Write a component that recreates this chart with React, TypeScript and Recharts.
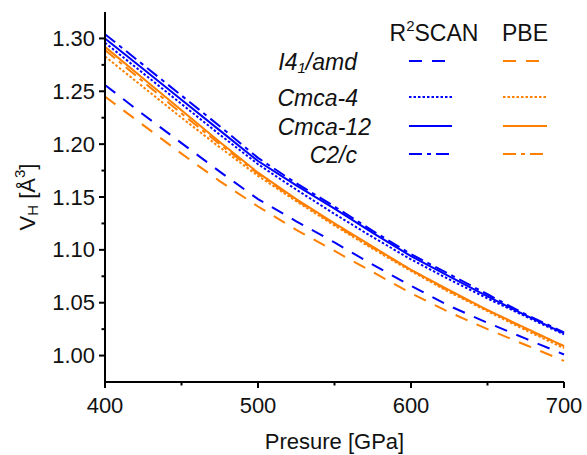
import { LineChart, Line, XAxis, YAxis } from "recharts";

const pressure = [400, 425, 450, 475, 500, 525, 550, 575, 600, 625, 650, 675, 700];

// R2SCAN
const i41R2 = [1.256, 1.228, 1.201, 1.174, 1.148, 1.127, 1.107, 1.086, 1.066, 1.047, 1.031, 1.016, 1.001];
const cmca4R2 = [1.296, 1.267, 1.238, 1.209, 1.181, 1.157, 1.134, 1.112, 1.091, 1.072, 1.054, 1.037, 1.02];
const cmca12R2 = [1.3, 1.271, 1.242, 1.213, 1.184, 1.161, 1.139, 1.116, 1.094, 1.075, 1.056, 1.038, 1.021];
const c2cR2 = [1.304, 1.275, 1.246, 1.217, 1.187, 1.163, 1.141, 1.118, 1.096, 1.077, 1.058, 1.039, 1.022];

// PBE
const i41Pbe = [1.245, 1.218, 1.191, 1.165, 1.141, 1.119, 1.099, 1.079, 1.059, 1.041, 1.025, 1.01, 0.995];
const cmca4Pbe = [1.283, 1.254, 1.225, 1.197, 1.17, 1.146, 1.123, 1.101, 1.08, 1.06, 1.042, 1.024, 1.007];
const cmca12Pbe = [1.292, 1.262, 1.232, 1.202, 1.173, 1.148, 1.125, 1.103, 1.081, 1.062, 1.043, 1.026, 1.009];
const c2cPbe = [1.289, 1.259, 1.229, 1.2, 1.172, 1.147, 1.124, 1.102, 1.081, 1.061, 1.043, 1.025, 1.009];

const xTicks = [400, 450, 500, 550, 600, 650, 700];
const xMajor = [400, 500, 600, 700];
const yTicks = [1.0, 1.025, 1.05, 1.075, 1.1, 1.125, 1.15, 1.175, 1.2, 1.225, 1.25, 1.275, 1.3];
const yMajor = [1.0, 1.05, 1.1, 1.15, 1.2, 1.25, 1.3];

const BLUE = "#0000ff";
const ORANGE = "#ff8000";
const FONT = "'Liberation Sans', Arial, sans-serif";

const DASH = "13 10";
const DOT = "2.5 2";
const DASHDOT = "13 5 4 5";

const styles = [
  { name: "I4", dash: DASH },
  { name: "Cmca-4", dash: DOT },
  { name: "Cmca-12", dash: undefined },
  { name: "C2/c", dash: DASHDOT },
];

const data = pressure.map((p, i) => ({
  p,
  i41R2: i41R2[i],
  cmca4R2: cmca4R2[i],
  cmca12R2: cmca12R2[i],
  c2cR2: c2cR2[i],
  i41Pbe: i41Pbe[i],
  cmca4Pbe: cmca4Pbe[i],
  cmca12Pbe: cmca12Pbe[i],
  c2cPbe: c2cPbe[i],
}));

const TICK_SIZE = 6;
const TICK_MARGIN = 4;

function YTick(props: any) {
  const { x, y, payload } = props;
  const major = yMajor.some((v) => Math.abs(v - payload.value) < 1e-6);
  const ax = x + TICK_SIZE + TICK_MARGIN;
  return (
    <g>
      <line x1={ax} x2={ax - (major ? 6 : 3.5)} y1={y} y2={y} stroke="#000" strokeWidth={2} />
      {major && (
        <text x={x} y={y} textAnchor="end" dominantBaseline="central" fontSize={22} fontFamily={FONT} fill="#111">
          {payload.value.toFixed(2)}
        </text>
      )}
    </g>
  );
}

function XTick(props: any) {
  const { x, y, payload } = props;
  const major = xMajor.includes(payload.value);
  const ay = y - TICK_SIZE - TICK_MARGIN;
  return (
    <g>
      <line x1={x} x2={x} y1={ay} y2={ay + (major ? 6 : 3.5)} stroke="#000" strokeWidth={2} />
      {major && (
        <text x={x} y={y + 13} textAnchor="middle" dominantBaseline="central" fontSize={22} fontFamily={FONT} fill="#111">
          {payload.value}
        </text>
      )}
    </g>
  );
}

function XLabel(props: any) {
  const { viewBox } = props;
  return (
    <text
      x={viewBox.x + viewBox.width / 2}
      y={441}
      textAnchor="middle"
      dominantBaseline="central"
      fontSize={22}
      fontFamily={FONT}
      fill="#111"
    >
      Presure [GPa]
    </text>
  );
}

function YLabel(props: any) {
  const { viewBox } = props;
  const cx = 27;
  const cy = viewBox.y + viewBox.height / 2;
  return (
    <text
      x={cx}
      y={cy}
      transform={`rotate(-90 ${cx} ${cy})`}
      textAnchor="middle"
      dominantBaseline="central"
      fontSize={22}
      fontFamily={FONT}
      fill="#111"
    >
      V
      <tspan fontSize={15} dy={5}>H</tspan>
      <tspan dy={-5}> [Å</tspan>
      <tspan fontSize={15} dy={-8}>3</tspan>
      <tspan dy={8}>]</tspan>
    </text>
  );
}

function LegendTable() {
  const rowY = [61, 97, 126, 154];
  const labels = [
    <tspan key="a">
      I4<tspan fontSize={15} dy={5}>1</tspan>
      <tspan dy={-5}>/amd</tspan>
    </tspan>,
    "Cmca-4",
    "Cmca-12",
    "C2/c",
  ];
  const labelRight = [357, 358, 371, 357];
  return (
    <svg width={587} height={455} style={{ position: "absolute", left: 0, top: 0, pointerEvents: "none" }}>
      <text x={434} y={33} textAnchor="middle" dominantBaseline="central" fontSize={23} fontFamily={FONT} fill="#111">
        R<tspan fontSize={15} dy={-8}>2</tspan>
        <tspan dy={8}>SCAN</tspan>
      </text>
      <text x={525} y={33} textAnchor="middle" dominantBaseline="central" fontSize={23} fontFamily={FONT} fill="#111">
        PBE
      </text>
      {styles.map((s, i) => (
        <g key={s.name}>
          <text
            x={labelRight[i]}
            y={rowY[i] + 1}
            textAnchor="end"
            dominantBaseline="central"
            fontSize={23}
            fontStyle="italic"
            fontFamily={FONT}
            fill="#111"
          >
            {labels[i]}
          </text>
          <line x1={409} x2={452} y1={rowY[i]} y2={rowY[i]} stroke={BLUE} strokeWidth={2} strokeDasharray={s.dash} />
          <line x1={503} x2={547} y1={rowY[i]} y2={rowY[i]} stroke={ORANGE} strokeWidth={2} strokeDasharray={s.dash} />
        </g>
      ))}
    </svg>
  );
}

const series = [
  { key: "i41Pbe", color: ORANGE, dash: DASH },
  { key: "cmca4Pbe", color: ORANGE, dash: DOT },
  { key: "c2cPbe", color: ORANGE, dash: DASHDOT },
  { key: "cmca12Pbe", color: ORANGE, dash: undefined },
  { key: "i41R2", color: BLUE, dash: DASH },
  { key: "cmca4R2", color: BLUE, dash: DOT },
  { key: "cmca12R2", color: BLUE, dash: undefined },
  { key: "c2cR2", color: BLUE, dash: DASHDOT },
];

export default function App() {
  return (
    <div style={{ position: "absolute", left: 0, top: 0, width: 587, height: 455, background: "#fff" }}>
      <LineChart width={587} height={455} data={data} margin={{ top: 12, right: 23, left: 0, bottom: 0 }}>
        <XAxis
          dataKey="p"
          type="number"
          domain={[400, 700]}
          ticks={xTicks}
          tick={<XTick />}
          tickLine={false}
          tickSize={TICK_SIZE}
          tickMargin={TICK_MARGIN}
          height={73}
          axisLine={{ stroke: "#000", strokeWidth: 2 }}
          interval={0}
          label={<XLabel />}
        />
        <XAxis xAxisId="top" dataKey="p" type="number" domain={[400, 700]} orientation="top" height={0} tick={false} tickLine={false} axisLine={{ stroke: "#000", strokeWidth: 2 }} />
        <YAxis
          type="number"
          domain={[0.975, 1.325]}
          ticks={yTicks}
          tick={<YTick />}
          tickLine={false}
          tickSize={TICK_SIZE}
          tickMargin={TICK_MARGIN}
          width={105}
          interval={0}
          axisLine={{ stroke: "#000", strokeWidth: 2 }}
          label={<YLabel />}
        />
        <YAxis yAxisId="right" type="number" domain={[0.975, 1.325]} orientation="right" width={0} tick={false} tickLine={false} axisLine={{ stroke: "#000", strokeWidth: 2 }} />
        {series.map((s) => (
          <Line
            key={s.key}
            dataKey={s.key}
            type="linear"
            stroke={s.color}
            strokeWidth={2}
            strokeDasharray={s.dash}
            dot={false}
            isAnimationActive={false}
          />
        ))}
      </LineChart>
      <LegendTable />
    </div>
  );
}
